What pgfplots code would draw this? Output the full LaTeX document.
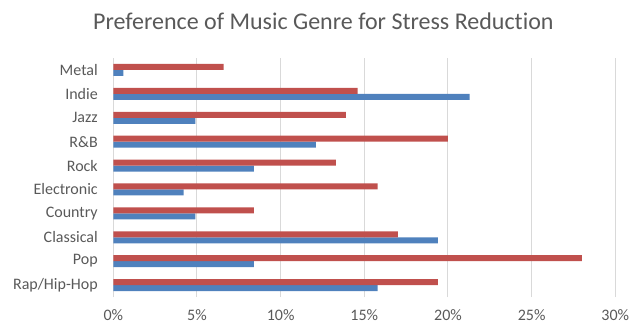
\documentclass[border=0pt]{standalone}
\usepackage{pgfplots}
\pgfplotsset{compat=1.18}
\usepackage{fontspec}
\setmainfont{Carlito}[Ligatures={NoCommon,NoRequired,NoContextual}]
\definecolor{barred}{HTML}{C0504D}
\definecolor{barblue}{HTML}{4F81BD}
\definecolor{gridgray}{HTML}{D9D9D9}
\definecolor{textgray}{HTML}{595959}

\begin{document}
\begin{tikzpicture}
\begin{axis}[
  at={(0pt,0pt)}, anchor=south west,
  scale only axis,
  width=502pt, height=239pt,
  xmin=0, xmax=30,
  ymin=-0.5, ymax=9.5,
  xbar, bar width=6pt,
  xtick={0,5,...,30},
  xticklabel={\pgfmathprintnumber{\tick}\%},
  /pgf/number format/assume math mode=true,
  ytick={0,...,9},
  yticklabels={Rap/Hip-Hop,Pop,Classical,Country,Electronic,Rock,R\&B,Jazz,Indie,Metal},
  xmajorgrids, major grid style={gridgray, line width=1pt},
  axis line style={draw=none},
  major tick length=0pt,
  tick label style={font=\fontsize{16}{19}\selectfont, text=textgray},
  xticklabel style={yshift=-9pt},
  yticklabel style={xshift=-12pt},
  clip=false,
]
% share of respondents per genre, second group
\addplot[draw=none, fill=barblue, bar shift=-3pt] coordinates {
  (15.8,0) (8.4,1) (19.4,2) (4.9,3) (4.2,4) (8.4,5) (12.1,6) (4.9,7) (21.3,8) (0.6,9)
};
% share of respondents per genre, first group
\addplot[draw=none, fill=barred, bar shift=3pt] coordinates {
  (19.4,0) (28.0,1) (17.0,2) (8.4,3) (15.8,4) (13.3,5) (20.0,6) (13.9,7) (14.6,8) (6.6,9)
};
\end{axis}
\node[text=textgray, font=\fontsize{24}{28}\selectfont, anchor=base] at (210pt, 268pt) {Preference of Music Genre for Stress Reduction};
\path[use as bounding box] (-113.3pt,-28pt) rectangle (522.7pt,297pt);
\end{tikzpicture}
\end{document}
